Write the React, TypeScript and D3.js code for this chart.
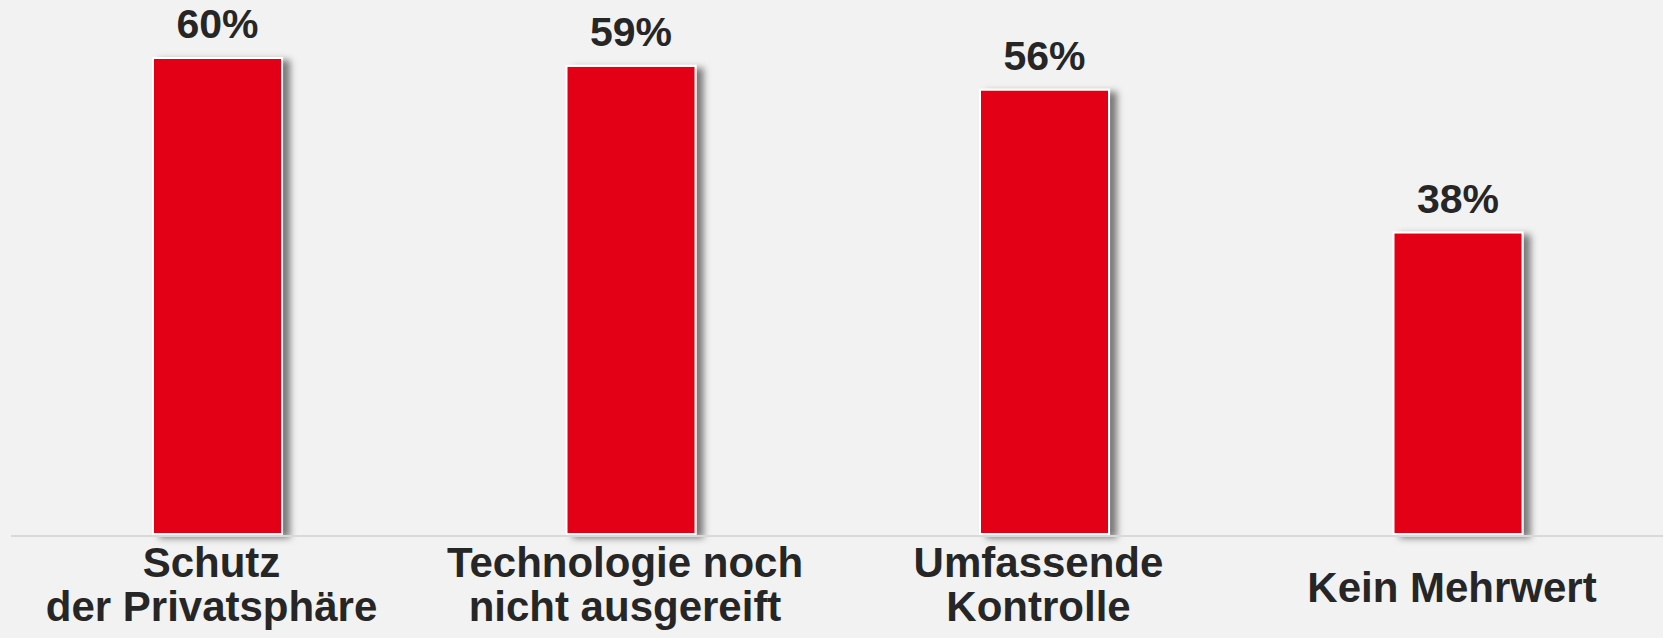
import React from "react";
import * as d3 from "d3";

const categories = ["Schutz\nder Privatsphäre", "Technologie noch\nnicht ausgereift", "Umfassende\nKontrolle", "Kein Mehrwert"];
const values = [60, 59, 56, 38];
const valueLabels = ["60%", "59%", "56%", "38%"];

const W = 1663;
const H = 638;

export default function App() {
  const x = d3
    .scaleBand<string>()
    .domain(categories)
    .range([11, 1664.5])
    .paddingInner(0.688)
    .paddingOuter(0.3434);
  const y = d3.scaleLinear().domain([0, 60]).range([534, 58]);
  const font = "'Liberation Sans', Arial, sans-serif";
  const bw = x.bandwidth();

  return (
    <svg
      width={W}
      height={H}
      style={{ position: "absolute", left: 0, top: 0, display: "block" }}
      xmlns="http://www.w3.org/2000/svg"
    >
      <defs>
        <filter id="shadow" x="-20%" y="-10%" width="150%" height="130%">
          <feDropShadow dx="7" dy="3" stdDeviation="3.5" floodColor="#000" floodOpacity="0.5" />
        </filter>
      </defs>
      <rect x={0} y={0} width={W} height={H} fill="#f2f2f2" />
      {categories.map((c, i) => (
        <rect
          key={"b" + i}
          x={x(c)!}
          y={y(values[i])}
          width={bw}
          height={y(0) - y(values[i])}
          fill="#e30613"
          stroke="#ffffff"
          strokeWidth={2}
          filter="url(#shadow)"
        />
      ))}
      <line x1={11} x2={W} y1={536} y2={536} stroke="#d9d9d9" strokeWidth={2} />
      {categories.map((c, i) => (
        <text
          key={"v" + i}
          x={x(c)! + bw / 2}
          y={y(values[i]) - 20}
          textAnchor="middle"
          fontFamily={font}
          fontWeight="bold"
          fontSize={41}
          fill="#262626"
        >
          {valueLabels[i]}
        </text>
      ))}
      {categories.map((c, i) => {
        const lines = c.split("\n");
        const cx = x(c)! + bw / 2 - 6;
        const baseY = lines.length === 1 ? 602 : 577;
        return (
          <text
            key={"c" + i}
            textAnchor="middle"
            fontFamily={font}
            fontWeight="bold"
            fontSize={42}
            fill="#262626"
          >
            {lines.map((l, j) => (
              <tspan key={j} x={cx} y={baseY + j * 44}>
                {l}
              </tspan>
            ))}
          </text>
        );
      })}
    </svg>
  );
}
